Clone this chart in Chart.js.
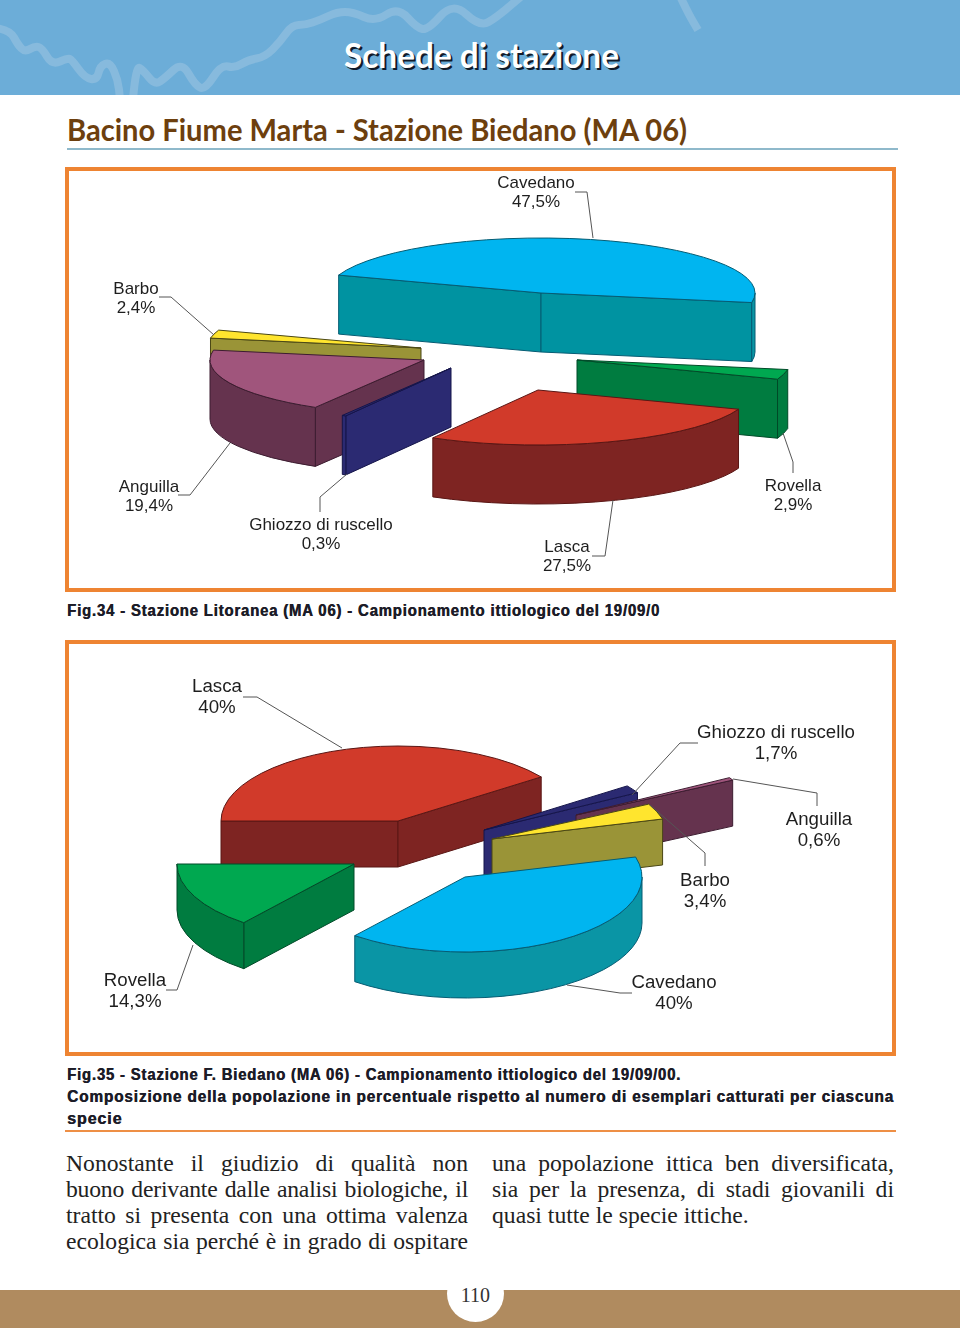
<!DOCTYPE html>
<html lang="it">
<head>
<meta charset="utf-8">
<title>Schede di stazione</title>
<script src="https://cdn.jsdelivr.net/npm/chart.js@4/dist/chart.umd.min.js"></script>
<style>
html,body{margin:0;padding:0;background:#fff;width:960px;height:1328px;overflow:hidden}
#page{position:relative;width:960px;height:1328px;overflow:hidden}
.abs{position:absolute;white-space:nowrap;transform-origin:left top}
.box{position:absolute;left:65px;width:823px;border:4px solid #ee8432;box-sizing:content-box}
canvas{position:absolute;left:0}
.cap{font:bold 16px "Liberation Sans",sans-serif;color:#1c1c28;letter-spacing:.9px;text-shadow:.5px 0 0 #1c1c28}
.body{font:23.65px "Liberation Serif",serif;color:#222;width:402px;white-space:normal;text-align:justify;text-align-last:justify}
</style>
</head>
<body>
<div id="page">
  <div class="abs" style="left:0;top:0;width:960px;height:95px;background:#6cadd8"></div>
  <svg class="abs" style="left:0;top:0" width="960" height="95" fill="none" stroke="#87badd" stroke-width="8" stroke-linecap="butt" stroke-linejoin="round">
    <path class="river" data-pts="-4,28 10,30 18,45 25,52 35,46 42,48 52,65 68,58 72,60 85,78 97,80 100,66 110,62 118,80 120,99"/>
    <path class="river" data-pts="133,99 136,66 143,70 155,85 165,78 182,62 195,85 205,90 221,65 235,68 248,60 265,57 280,42 292,25 305,25 320,20 337,12 353,12 375,22 398,7 417,28 428,30 453,2 480,27 497,17 524,-6"/>
    <path class="river" data-pts="680,-4 688,13 698,30" stroke-width="8"/>
  </svg>
  <div class="abs fit" data-w="275" style="left:344px;top:34px;font:bold 34px 'Lato',sans-serif;color:#fff;text-shadow:2px 2px 0 #111b2a">Schede di stazione</div>
  <div class="abs fit" data-w="620" style="left:67px;top:110px;font:bold 31px 'Lato',sans-serif;color:#6d3f0e">Bacino Fiume Marta - Stazione Biedano (MA 06)</div>
  <div class="abs" style="left:67px;top:148px;width:831px;height:2px;background:#8fb9cb"></div>

  <div class="box" style="top:167px;height:417px"></div>
  <canvas id="pieLitoranea" width="960" height="425" style="top:167px"></canvas>
  <div class="abs cap fit" data-w="593" style="left:67px;top:602px">Fig.34 - Stazione Litoranea (MA 06) - Campionamento ittiologico del 19/09/0</div>

  <div class="box" style="top:640px;height:408px"></div>
  <canvas id="pieBiedano" width="960" height="416" style="top:640px"></canvas>
  <div class="abs cap fit" data-w="614" style="left:67px;top:1066px">Fig.35 - Stazione F. Biedano (MA 06) - Campionamento ittiologico del 19/09/00.</div>
  <div class="abs cap fit" data-w="827" style="left:67px;top:1088px">Composizione della popolazione in percentuale rispetto al numero di esemplari catturati per ciascuna</div>
  <div class="abs cap" style="left:67px;top:1110px">specie</div>
  <div class="abs" style="left:65px;top:1130px;width:831px;height:2px;background:#ee8f45"></div>

  <div class="abs body" style="left:66px;top:1150px">Nonostante il giudizio di qualità non</div>
  <div class="abs body" style="left:66px;top:1176px;letter-spacing:-.2px">buono derivante dalle analisi biologiche, il</div>
  <div class="abs body" style="left:66px;top:1202px">tratto si presenta con una ottima valenza</div>
  <div class="abs body" style="left:66px;top:1228px">ecologica sia perché è in grado di ospitare</div>
  <div class="abs body" style="left:492px;top:1150px">una popolazione ittica ben diversificata,</div>
  <div class="abs body" style="left:492px;top:1176px">sia per la presenza, di stadi giovanili di</div>
  <div class="abs body" style="left:492px;top:1202px;text-align:left;text-align-last:left">quasi tutte le specie ittiche.</div>

  <div class="abs" style="left:0;top:1290px;width:960px;height:38px;background:#b08b5f"></div>
  <div class="abs" style="left:447px;top:1265px;width:57px;height:57px;border-radius:50%;background:#fff"></div>
  <div class="abs" style="left:447px;top:1284px;width:57px;text-align:center;font:20px 'Liberation Serif',serif;color:#333">110</div>
</div>

<script>
// ---- Data ----
const speciesTop = ['Cavedano', 'Rovella', 'Lasca', 'Ghiozzo di ruscello', 'Anguilla', 'Barbo'];
const valuesTop = [47.5, 2.9, 27.5, 0.3, 19.4, 2.4];
const speciesBottom = ['Lasca', 'Ghiozzo di ruscello', 'Anguilla', 'Barbo', 'Cavedano', 'Rovella'];
const valuesBottom = [40, 1.7, 0.6, 3.4, 40, 14.3];

// ---- Species colours: top face / flat cut face / curved wall / outline ----
const palette = {
  'Cavedano': ['#00b5f0', '#0093a1', '#0a95a5', '#055c73'],
  'Rovella': ['#00a850', '#007c40', '#007c40', '#004a28'],
  'Lasca': ['#d13a2a', '#7e2422', '#7e2422', '#5a1614'],
  'Ghiozzo di ruscello': ['#2b2a72', '#2b2a72', '#2b2a72', '#15154a'],
  'Anguilla': ['#a0557c', '#65334e', '#65334e', '#3c1c30'],
  'Barbo': ['#ffe52e', '#9a9437', '#9a9437', '#4a4715']
};

// ---- Drawing layout (not data) ----
const layoutTop = {
  originY: 167, rx: 214, ry: 55, depth: 59, rotation: 289, labelFont: '17px "Liberation Sans"', lineGap: 19,
  paint: ['Cavedano', 'Barbo', 'Anguilla', 'Rovella', 'Ghiozzo di ruscello', 'Lasca'],
  apex: {'Cavedano': [541, 293], 'Rovella': [577, 360], 'Lasca': [538, 390], 'Ghiozzo di ruscello': [451, 368], 'Anguilla': [424, 360], 'Barbo': [421, 348]},
  label: {'Cavedano': [536, 183], 'Rovella': [793, 486], 'Lasca': [567, 547], 'Ghiozzo di ruscello': [321, 525], 'Anguilla': [149, 487], 'Barbo': [136, 289]},
  leader: {
    'Cavedano': [[575, 192], [587, 192], [593, 238]], 'Rovella': [[793, 473], [793, 462], [783, 433]],
    'Lasca': [[592, 556], [605, 556], [613, 500]], 'Ghiozzo di ruscello': [[320, 512], [320, 497], [347, 474]],
    'Anguilla': [[178, 495], [190, 495], [230, 443]], 'Barbo': [[159, 297], [171, 297], [214, 335]]
  }
};
const layoutBottom = {
  originY: 640, rx: 177, ry: 75, depth: 46, rotation: 270, labelFont: '18.7px "Liberation Sans"', lineGap: 21,
  paint: ['Lasca', 'Ghiozzo di ruscello', 'Anguilla', 'Barbo', 'Rovella', 'Cavedano'],
  apex: {'Lasca': [398, 821], 'Ghiozzo di ruscello': [484, 830], 'Anguilla': [576, 815], 'Barbo': [492, 839], 'Cavedano': [465, 877], 'Rovella': [354, 864]},
  label: {'Lasca': [217, 687], 'Ghiozzo di ruscello': [776, 733], 'Anguilla': [819, 820], 'Barbo': [705, 881], 'Cavedano': [674, 983], 'Rovella': [135, 981]},
  leader: {
    'Lasca': [[243, 697], [257, 697], [342, 748]], 'Ghiozzo di ruscello': [[698, 743], [680, 743], [632, 795]],
    'Anguilla': [[817, 806], [817, 793], [733, 779]], 'Barbo': [[705, 866], [705, 853], [650, 805]],
    'Cavedano': [[632, 993], [620, 993], [567, 985]], 'Rovella': [[166, 990], [177, 990], [193, 945]]
  }
};

function formatValue(v) { return String(v).replace('.', ',') + '%'; }

const pie3d = {
  id: 'pie3d',
  beforeDatasetDraw(chart, args) {
    const L = chart.options.plugins.pie3d;
    const names = chart.data.labels;
    const vals = chart.data.datasets[0].data;
    const meta = chart.getDatasetMeta(args.index);
    const ctx = chart.ctx;
    ctx.save();
    ctx.translate(0, -L.originY);
    ctx.lineWidth = 1;
    ctx.lineJoin = 'round';
    for (const name of L.paint) {
      const i = names.indexOf(name);
      const arc = meta.data[i];
      const p = arc.getProps(['x', 'y', 'startAngle', 'endAngle', 'outerRadius']);
      const [ax, ay] = L.apex[name];
      const [cTop, cCut, cWall, cLine] = palette[name];
      const a = p.startAngle, b = p.endAngle;
      const pt = t => [ax + L.rx * Math.cos(t), ay + L.ry * Math.sin(t)];
      ctx.strokeStyle = cLine;
      const cutFace = t => {
        const q = pt(t);
        ctx.beginPath();
        ctx.moveTo(ax, ay); ctx.lineTo(q[0], q[1]);
        ctx.lineTo(q[0], q[1] + L.depth); ctx.lineTo(ax, ay + L.depth);
        ctx.closePath();
        ctx.fillStyle = cCut; ctx.fill(); ctx.stroke();
      };
      if (Math.cos(a) < 0) cutFace(a);
      if (Math.cos(b) > 0) cutFace(b);
      for (const k of [-2, 0, 2, 4]) {
        const lo = Math.max(a, k * Math.PI), hi = Math.min(b, (k + 1) * Math.PI);
        if (hi <= lo) continue;
        ctx.beginPath();
        ctx.ellipse(ax, ay, L.rx, L.ry, 0, lo, hi);
        ctx.ellipse(ax, ay + L.depth, L.rx, L.ry, 0, hi, lo, true);
        ctx.closePath();
        ctx.fillStyle = cWall; ctx.fill(); ctx.stroke();
      }
      // top face: the library's own arc element, flattened into perspective
      ctx.save();
      ctx.translate(ax, ay);
      ctx.scale(L.rx / p.outerRadius, L.ry / p.outerRadius);
      ctx.translate(-p.x, -p.y);
      arc.draw(ctx);
      ctx.restore();
      ctx.strokeStyle = cLine;
      ctx.beginPath();
      ctx.moveTo(ax, ay);
      ctx.ellipse(ax, ay, L.rx, L.ry, 0, a, b);
      ctx.closePath();
      ctx.stroke();
    }
    // leader lines and labels
    ctx.strokeStyle = '#555';
    ctx.lineWidth = 1;
    ctx.fillStyle = '#1e1e1e';
    ctx.font = L.labelFont;
    ctx.textAlign = 'center';
    ctx.textBaseline = 'middle';
    names.forEach((name, i) => {
      const pts = L.leader[name];
      ctx.beginPath();
      pts.forEach((q, n) => n ? ctx.lineTo(q[0], q[1]) : ctx.moveTo(q[0], q[1]));
      ctx.stroke();
      const [lx, ly] = L.label[name];
      ctx.fillText(name, lx, ly);
      ctx.fillText(formatValue(vals[i]), lx, ly + L.lineGap);
    });
    ctx.restore();
    return false;
  }
};

function makePie(id, labels, values, L) {
  return new Chart(document.getElementById(id), {
    type: 'pie',
    data: {
      labels,
      datasets: [{
        data: values,
        backgroundColor: labels.map(n => palette[n][0]),
        borderWidth: 0
      }]
    },
    options: {
      responsive: false,
      animation: false,
      rotation: L.rotation,
      layout: {padding: 0},
      plugins: {legend: {display: false}, tooltip: {enabled: false}, pie3d: L}
    },
    plugins: [pie3d]
  });
}
makePie('pieLitoranea', speciesTop, valuesTop, layoutTop);
makePie('pieBiedano', speciesBottom, valuesBottom, layoutBottom);

// smooth the decorative river lines of the page header
document.querySelectorAll('.river').forEach(el => {
  const q = el.dataset.pts.split(' ').map(s => s.split(',').map(Number));
  let d = 'M' + q[0].join(' ');
  for (let i = 1; i < q.length - 1; i++) {
    d += ' Q' + q[i].join(' ') + ' ' + (q[i][0] + q[i + 1][0]) / 2 + ' ' + (q[i][1] + q[i + 1][1]) / 2;
  }
  d += ' L' + q[q.length - 1].join(' ');
  el.setAttribute('d', d);
});

// fit wide headings to their measured widths
document.querySelectorAll('.fit').forEach(el => {
  const w = +el.dataset.w;
  el.style.transform = 'scaleX(' + (w / el.getBoundingClientRect().width) + ')';
});
</script>
</body>
</html>
